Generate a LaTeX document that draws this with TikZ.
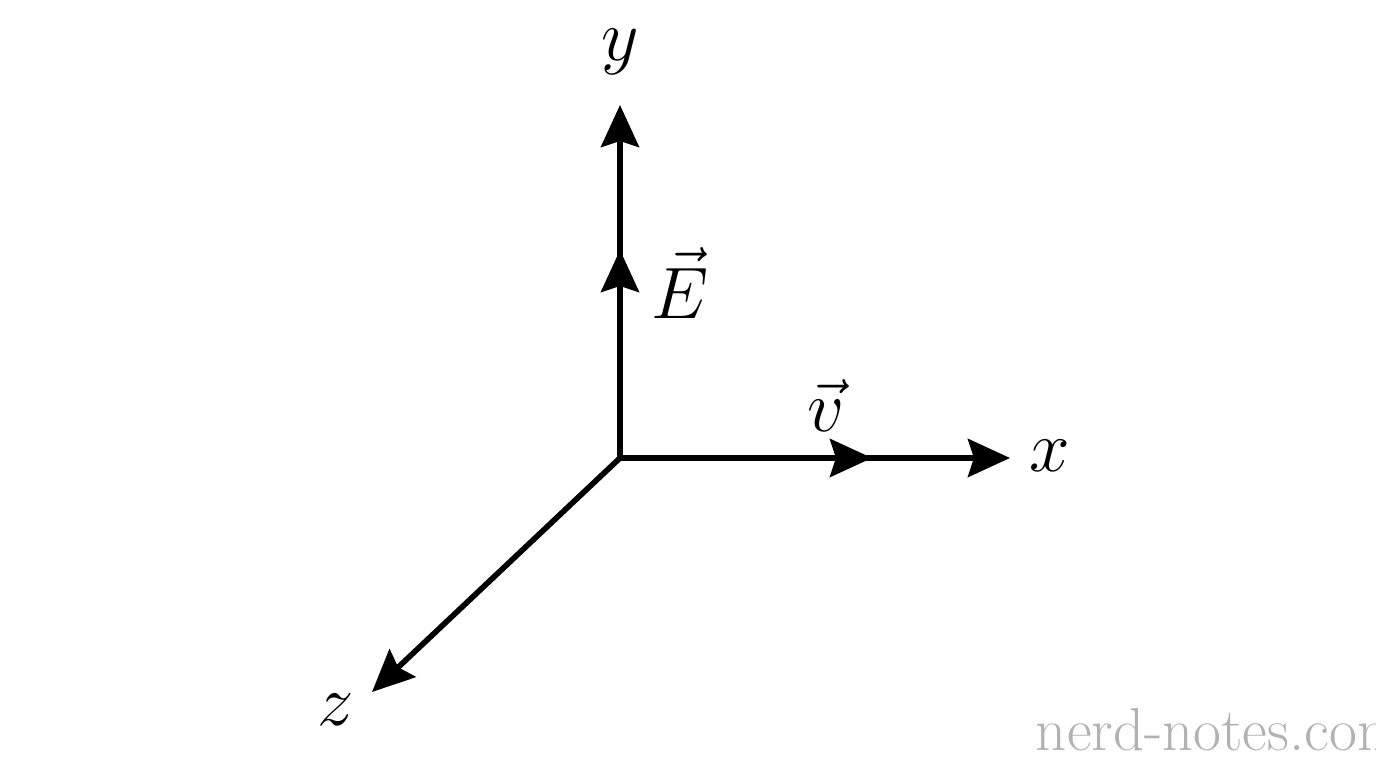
\documentclass[tikz,border=0pt]{standalone}
\usepackage{tikz}
\usetikzlibrary{arrows.meta, positioning}
\tikzstyle{axis} = [line width=1.6pt,-{Stealth[length=0.42cm,width=0.38cm,inset=0.06cm]}]
\tikzstyle{vecmark} = [line width=1.6pt,-{Stealth[length=0.42cm,width=0.38cm,inset=0.06cm]}]
\tikzstyle{lbl} = [font=\huge]

\begin{document}
\begin{tikzpicture}
    \useasboundingbox (0,0) rectangle (13.76,7.68);

    % Axes
    \coordinate (origin) at (6.20,3.10);
    \coordinate (ytip) at (6.20,6.63);
    \coordinate (xtip) at (10.10,3.10);
    \coordinate (ztip) at (3.72,0.76);
    \coordinate (etip) at (6.20,5.18);
    \coordinate (vtip) at (8.72,3.10);

    \draw [axis] (origin) -- (ytip);
    \draw [axis] (origin) -- (xtip);
    \draw [axis] (origin) -- (ztip);

    % Vectors
    \draw [vecmark] (origin) -- (etip);
    \draw [vecmark] (origin) -- (vtip);

    % Labels
    \node (ylabel) [lbl] at (6.20,7.16) {$y$};
    \node (xlabel) [lbl] at (10.50,3.12) {$x$};
    \node (zlabel) [lbl] at (3.36,0.58) {$z$};
    \node (elabel) [lbl] at (6.80,4.85) {$\vec{E}$};
    \node (vlabel) [lbl] at (8.26,3.62) {$\vec{v}$};

    % Watermark
    \node (mark) [font=\LARGE, text=black!30] at (12.20,0.38) {nerd-notes.com};
\end{tikzpicture}
\end{document}
